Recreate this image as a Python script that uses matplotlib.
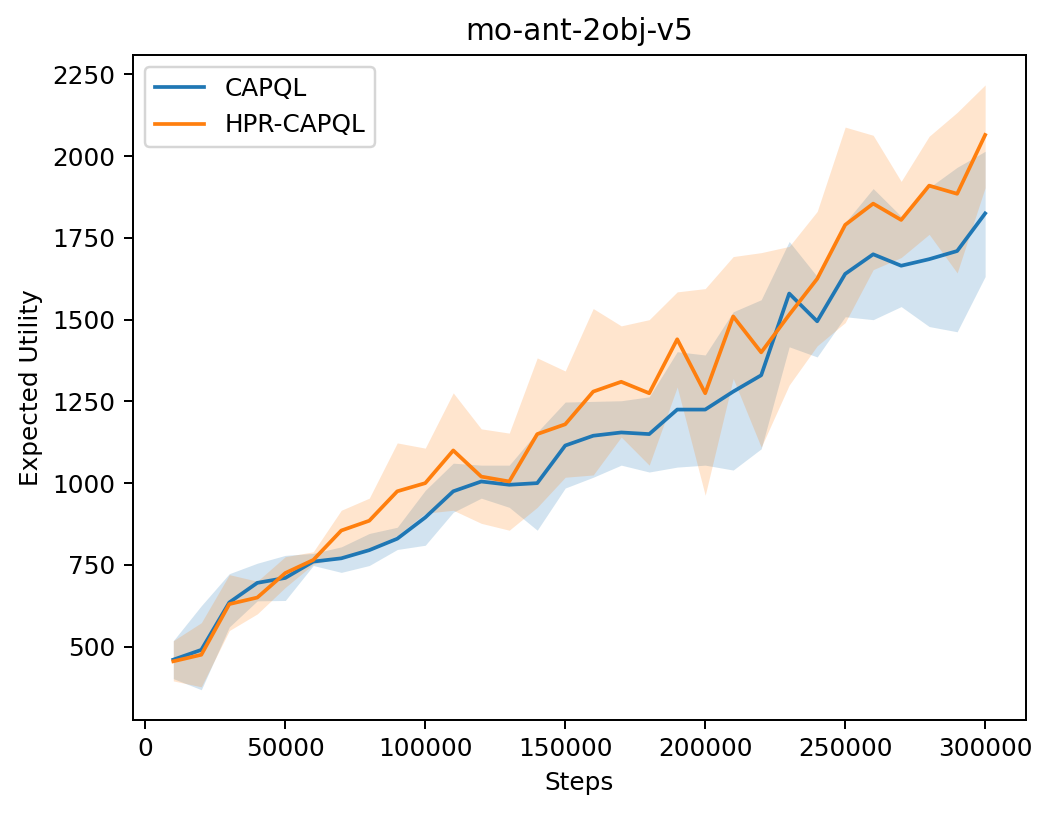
import matplotlib
matplotlib.use("Agg")
import matplotlib.pyplot as plt
import numpy as np

steps = list(range(10000, 300001, 10000))

capql_mean = [460, 490, 635, 695, 710, 760, 770, 795, 830, 895, 975, 1005, 995, 1000, 1115,
              1145, 1155, 1150, 1225, 1225, 1280, 1330, 1580, 1495, 1640, 1700, 1665, 1685, 1710, 1825]
capql_low = [402, 368, 560, 640, 641, 748, 727, 748, 797, 810, 911, 954, 926, 856, 985,
             1018, 1055, 1034, 1049, 1055, 1040, 1105, 1417, 1386, 1509, 1500, 1540, 1479, 1463, 1632]
capql_high = [518, 625, 723, 755, 779, 785, 805, 846, 865, 978, 1061, 1055, 1055, 1156, 1248,
              1250, 1252, 1264, 1402, 1392, 1524, 1561, 1739, 1632, 1797, 1901, 1816, 1904, 1966, 2015]

hpr_mean = [455, 475, 630, 650, 725, 765, 855, 885, 975, 1000, 1100, 1020, 1005, 1150, 1180,
            1280, 1310, 1275, 1440, 1275, 1510, 1400, 1515, 1625, 1790, 1855, 1805, 1910, 1885, 2065]
hpr_low = [395, 377, 549, 600, 681, 752, 773, 800, 840, 908, 917, 877, 856, 926, 1018,
           1025, 1141, 1055, 1294, 963, 1320, 1110, 1300, 1420, 1491, 1653, 1690, 1761, 1643, 1904]
hpr_high = [518, 573, 720, 700, 775, 790, 917, 954, 1123, 1107, 1276, 1166, 1153, 1383, 1343,
            1534, 1481, 1500, 1585, 1595, 1693, 1705, 1724, 1831, 2089, 2064, 1923, 2061, 2134, 2218]

dpi = 178
fig = plt.figure(figsize=(1050 / dpi, 814 / dpi), dpi=dpi)
ax = fig.add_axes([0.1264, 0.1155, 0.8505, 0.8173])

ax.plot(steps, capql_mean, color="#1f77b4", label="CAPQL")
ax.fill_between(steps, capql_low, capql_high, color="#1f77b4", alpha=0.2, linewidth=0)
ax.plot(steps, hpr_mean, color="#ff7f0e", label="HPR-CAPQL")
ax.fill_between(steps, hpr_low, hpr_high, color="#ff7f0e", alpha=0.2, linewidth=0)

ax.set_title("mo-ant-2obj-v5")
ax.set_xlabel("Steps")
ax.set_ylabel("Expected Utility")
ax.legend(loc="upper left")

fig.savefig("out.png", dpi=dpi)
